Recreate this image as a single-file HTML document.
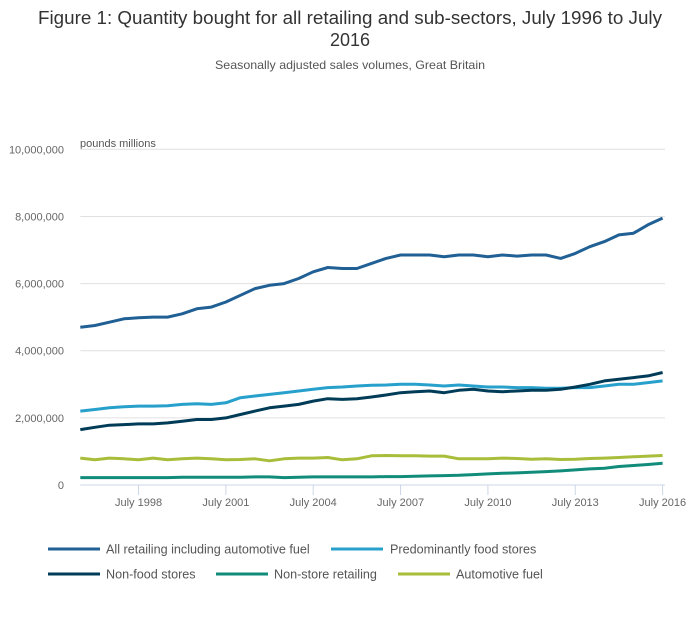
<!DOCTYPE html>
<html><head><meta charset="utf-8"><style>
html,body{margin:0;padding:0;background:#fff;}
svg{display:block;font-family:"Liberation Sans",sans-serif;}
</style></head><body>
<svg id="chart" width="700" height="635" viewBox="0 0 700 635">
<text x="350" y="24" text-anchor="middle" font-size="18" fill="#333" textLength="624" lengthAdjust="spacingAndGlyphs">Figure 1: Quantity bought for all retailing and sub-sectors, July 1996 to July</text>
<text x="350" y="46" text-anchor="middle" font-size="18" fill="#333">2016</text>
<text x="350" y="69" text-anchor="middle" font-size="12" fill="#555" textLength="270" lengthAdjust="spacingAndGlyphs">Seasonally adjusted sales volumes, Great Britain</text>
<text x="80" y="147" font-size="11" fill="#555">pounds millions</text>
<g id="grid"></g><g id="xaxis"></g><g id="series"></g>
<g font-size="12.6" fill="#555">
 <g><line x1="48" y1="549" x2="100" y2="549" stroke="#206095" stroke-width="3"/><text x="106" y="553.5">All retailing including automotive fuel</text></g>
 <g><line x1="331" y1="549" x2="383" y2="549" stroke="#27a0cc" stroke-width="3"/><text x="390" y="553.5">Predominantly food stores</text></g>
 <g><line x1="48" y1="574" x2="100" y2="574" stroke="#003c57" stroke-width="3"/><text x="106" y="578.5">Non-food stores</text></g>
 <g><line x1="216" y1="574" x2="268" y2="574" stroke="#118c7b" stroke-width="3"/><text x="274" y="578.5">Non-store retailing</text></g>
 <g><line x1="398" y1="574" x2="450" y2="574" stroke="#a8bd3a" stroke-width="3"/><text x="456" y="578.5">Automotive fuel</text></g>
</g>
</svg>
<script>
// half-yearly points, July 1996 .. July 2016 (values in millions)
const periods = 41;
const allRetail = [4.7,4.75,4.85,4.95,4.98,5.0,5.0,5.1,5.25,5.3,5.45,5.65,5.85,5.95,6.0,6.15,6.35,6.48,6.45,6.45,6.6,6.75,6.85,6.85,6.85,6.8,6.85,6.85,6.8,6.85,6.82,6.85,6.85,6.75,6.9,7.1,7.25,7.45,7.5,7.75,7.95];
const foodStores = [2.2,2.25,2.3,2.33,2.35,2.35,2.36,2.4,2.42,2.4,2.45,2.6,2.65,2.7,2.75,2.8,2.85,2.9,2.92,2.95,2.97,2.98,3.0,3.0,2.98,2.95,2.98,2.95,2.92,2.92,2.9,2.9,2.88,2.88,2.9,2.9,2.95,3.0,3.0,3.05,3.1];
const nonFood = [1.65,1.72,1.78,1.8,1.82,1.82,1.85,1.9,1.95,1.95,2.0,2.1,2.2,2.3,2.35,2.4,2.5,2.57,2.55,2.57,2.62,2.68,2.75,2.78,2.8,2.75,2.82,2.85,2.8,2.78,2.8,2.82,2.82,2.85,2.92,3.0,3.1,3.15,3.2,3.25,3.35];
const nonStore = [0.22,0.22,0.22,0.22,0.22,0.22,0.22,0.23,0.23,0.23,0.23,0.23,0.24,0.24,0.22,0.23,0.24,0.24,0.24,0.24,0.24,0.25,0.25,0.26,0.27,0.28,0.29,0.31,0.33,0.35,0.36,0.38,0.4,0.42,0.45,0.48,0.5,0.55,0.58,0.61,0.65];
const autoFuel = [0.8,0.75,0.8,0.78,0.75,0.8,0.75,0.78,0.8,0.78,0.75,0.76,0.78,0.72,0.78,0.8,0.8,0.82,0.75,0.78,0.87,0.88,0.87,0.87,0.86,0.86,0.78,0.78,0.78,0.8,0.79,0.77,0.78,0.76,0.77,0.79,0.8,0.82,0.84,0.86,0.88];
const yTicks = [0,2,4,6,8,10];
const yTickLabels = ["0","2,000,000","4,000,000","6,000,000","8,000,000","10,000,000"];
const xTickIdx = [4,10,16,22,28,34,40];
const xTickLabels = ["July 1998","July 2001","July 2004","July 2007","July 2010","July 2013","July 2016"];

const X0=80.3, X1=662.6, Y0=485, Y1=149.3;
const xs = i => X0 + (X1-X0)*i/(periods-1);
const ys = v => Y0 - (Y0-Y1)*v/10;
const NS="http://www.w3.org/2000/svg";
function mk(tag, parent, attrs){const e=document.createElementNS(NS,tag);for(const k in attrs)e.setAttribute(k,attrs[k]);parent.appendChild(e);return e;}
const grid=document.getElementById('grid');
yTicks.forEach((t,i)=>{
  const l=mk('line',grid,{x1:X0,x2:665,y1:ys(t),y2:ys(t),stroke:i===0?'#ccd6e6':'#e0e0e0','stroke-width':1});
  
  
  const tx=mk('text',grid,{x:64,y:ys(t)+4,'text-anchor':'end','font-size':11,fill:'#666'});
  tx.textContent=yTickLabels[i];
  
  
});
const xa=document.getElementById('xaxis');
xTickIdx.forEach((idx,i)=>{
  const x=xs(idx);
  const l=mk('line',xa,{x1:x,x2:x,y1:485,y2:495,stroke:'#ccd6e6','stroke-width':1});
  
  
  const tx=mk('text',xa,{x:x,y:506,'text-anchor':'middle','font-size':11,fill:'#666'});
  tx.textContent=xTickLabels[i];
  
  
});
const sg=document.getElementById('series');
function draw(arr,color,name){
  const d=arr.map((v,i)=>(i?'L':'M')+xs(i).toFixed(1)+','+ys(v).toFixed(1)).join('');
  const p=mk('path',sg,{d:d,fill:'none',stroke:color,'stroke-width':3,'stroke-linejoin':'round'});
  
  
}
draw(nonStore,'#118c7b','line-non-store');
draw(autoFuel,'#a8bd3a','line-automotive-fuel');
draw(foodStores,'#27a0cc','line-food-stores');
draw(nonFood,'#003c57','line-non-food-stores');
draw(allRetail,'#206095','line-all-retailing');
</script>
</body></html>
